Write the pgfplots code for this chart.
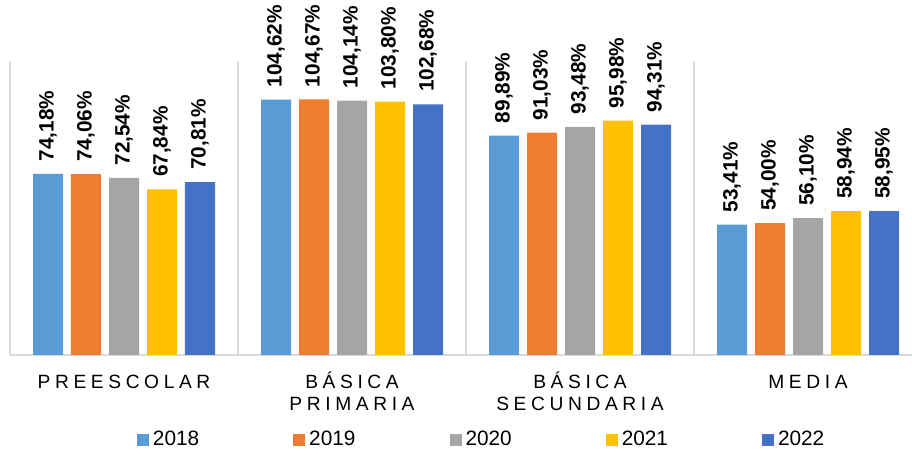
\documentclass[border=0pt]{standalone}
\usepackage{fontspec}
\setmainfont{Liberation Sans}
\newfontfamily\catfont[LetterSpace=24]{Liberation Sans}
\usepackage{pgfplots}
\pgfplotsset{compat=1.18}

\definecolor{c18}{HTML}{5B9BD5}
\definecolor{c19}{HTML}{ED7D31}
\definecolor{c20}{HTML}{A5A5A5}
\definecolor{c21}{HTML}{FFC000}
\definecolor{c22}{HTML}{4472C4}
\definecolor{sep}{HTML}{D9D9D9}

\pgfplotsset{
  sq legend/.style={
    legend image code/.code={\fill[##1] (0pt,-3pt) rectangle (6pt,3pt);}
  },
}

\begin{document}
\begin{tikzpicture}
\useasboundingbox (-5pt,-50pt) rectangle (451pt,177.5pt);
\begin{axis}[
  scale only axis,
  width=451pt, height=146.5pt,
  ybar,
  ymin=0, ymax=120,
  xmin=-0.5, xmax=3.456,
  axis y line=none,
  axis x line*=bottom,
  x axis line style={sep, line width=0.8pt},
  clip=false,
  bar width=0.1316,
  xtick={0,1,2,3},
  xticklabels={{\vphantom{Á}PREESCOLAR},{BÁSICA\\PRIMARIA},{BÁSICA\\SECUNDARIA},{\vphantom{Á}MEDIA}},
  xticklabel style={align=center, anchor=north, yshift=-5pt,
    font=\catfont\fontsize{9.6}{11}\selectfont},
  major tick length=0pt,
  extra x ticks={-0.5,0.5,1.5,2.5},
  extra x tick labels={},
  extra x tick style={grid=major, major grid style={sep, line width=0.8pt}},
  ytick=\empty,
  /pgf/number format/assume math mode=true,
  nodes near coords={\pgfmathprintnumber[fixed,fixed zerofill,precision=2,use comma,assume math mode=true]{\pgfplotspointmeta}\%},
  every node near coord/.append style={rotate=90, anchor=west, inner xsep=6pt, inner ysep=0pt,
    font=\bfseries\fontsize{10.4}{12}\selectfont, black},
  sq legend,
  legend columns=5,
  legend style={draw=none, at={(0.524,-0.29)}, anchor=center,
    font=\fontsize{10.4}{12}\selectfont,
    /tikz/every even column/.append style={column sep=45pt}},
]
\addplot[fill=c18, draw=none, bar shift=-0.3333] coordinates {(0,74.18) (1,104.62) (2,89.89) (3,53.41)};
\addplot[fill=c19, draw=none, bar shift=-0.1667] coordinates {(0,74.06) (1,104.67) (2,91.03) (3,54.00)};
\addplot[fill=c20, draw=none, bar shift=0] coordinates {(0,72.54) (1,104.14) (2,93.48) (3,56.10)};
\addplot[fill=c21, draw=none, bar shift=0.1667] coordinates {(0,67.84) (1,103.80) (2,95.98) (3,58.94)};
\addplot[fill=c22, draw=none, bar shift=0.3333] coordinates {(0,70.81) (1,102.68) (2,94.31) (3,58.95)};
\legend{2018,2019,2020,2021,2022}
\end{axis}
\end{tikzpicture}
\end{document}
